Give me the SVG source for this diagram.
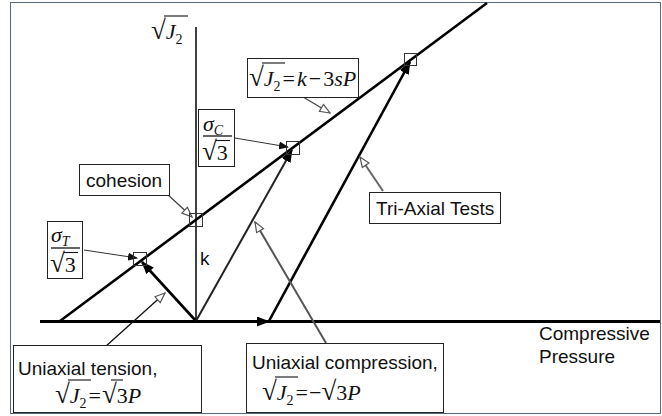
<svg xmlns="http://www.w3.org/2000/svg" width="662" height="416" viewBox="0 0 662 416">
<style>
.s{font-family:"Liberation Sans",Arial,sans-serif;font-size:19px;fill:#111}
.m{font-family:"Liberation Serif","Times New Roman",serif;font-size:22px;fill:#111}
.r{font-size:27px}
.i{font-style:italic}
.sub{font-size:14px}
.box{fill:#fff;stroke:#222;stroke-width:1}
.sq{fill:none;stroke:#333;stroke-width:1}
.vin{stroke:#111;stroke-width:1.1}
.main{stroke:#000;stroke-width:2.6;fill:none}
</style>
<defs>
<marker id="ah" markerUnits="userSpaceOnUse" markerWidth="13" markerHeight="10" refX="12" refY="5" orient="auto"><path d="M0,0 L13,5 L0,10 z" fill="#000"/></marker>
<marker id="ahs" markerUnits="userSpaceOnUse" markerWidth="10" markerHeight="8" refX="9" refY="4" orient="auto"><path d="M0,0 L10,4 L0,8 z" fill="#111"/></marker>
<marker id="ho" markerUnits="userSpaceOnUse" markerWidth="12" markerHeight="10" refX="11" refY="5" orient="auto"><path d="M1,1 L11,5 L1,9 z" fill="#fff" stroke="#555" stroke-width="1.2"/></marker>
</defs>
<rect x="10.5" y="2.5" width="650" height="411" fill="#fff" stroke="#5a6a7e" stroke-width="1"/>

<g id="connectors">
<line x1="40" y1="321.5" x2="660" y2="321.5" stroke="#000" stroke-width="3"/>
<line x1="196" y1="27" x2="196" y2="321" stroke="#000" stroke-width="1.5"/>
<line x1="60" y1="321" x2="487" y2="3" class="main"/>
<line x1="196" y1="321" x2="142" y2="262" class="main" marker-end="url(#ah)"/>
<line x1="196" y1="321" x2="292" y2="150" stroke="#222" stroke-width="2" marker-end="url(#ah)"/>
<line x1="196" y1="321.5" x2="269" y2="321.5" stroke="#000" stroke-width="3" marker-end="url(#ah)"/>
<line x1="269" y1="321" x2="410" y2="62" class="main" marker-end="url(#ah)"/>
<line x1="166" y1="193" x2="192" y2="217" stroke="#444" stroke-width="1.3" marker-end="url(#ho)"/>
<line x1="235" y1="138" x2="288" y2="147" stroke="#333" stroke-width="1" marker-end="url(#ahs)"/>
<line x1="84" y1="250" x2="137" y2="258" stroke="#333" stroke-width="1" marker-end="url(#ahs)"/>
<line x1="298" y1="94" x2="330" y2="113" stroke="#444" stroke-width="1.3" marker-end="url(#ho)"/>
<line x1="383" y1="191" x2="360" y2="157" stroke="#666" stroke-width="2" marker-end="url(#ho)"/>
<line x1="326" y1="343" x2="255" y2="222" stroke="#555" stroke-width="2" marker-end="url(#ho)"/>
<line x1="105" y1="347" x2="165" y2="293" stroke="#111" stroke-width="1.3" marker-end="url(#ho)"/>
</g>

<g id="points">
<rect x="189.5" y="213.5" width="13" height="13" class="sq"/>
<rect x="133.5" y="252.5" width="13" height="13" class="sq"/>
<rect x="286.5" y="141.5" width="13" height="13" class="sq"/>
<rect x="404.5" y="53.5" width="12" height="12" class="sq"/>
</g>

<g id="axis-label">
<text x="151" y="39" class="m"><tspan class="r">√</tspan><tspan class="i">J</tspan><tspan class="sub" dy="5">2</tspan></text>
<line x1="164" y1="16" x2="188" y2="16" class="vin"/>
</g>

<g id="k-label"><text x="200" y="265" class="s">k</text></g>

<g id="cohesion">
<rect x="79.5" y="164.5" width="90" height="31" class="box"/>
<text x="86" y="187" class="s">cohesion</text>
</g>

<g id="sigmaC">
<rect x="198.5" y="109.5" width="36" height="57" class="box"/>
<text x="203" y="131" class="m i" font-size="24">σ<tspan class="sub" dy="4">C</tspan></text>
<line x1="203" y1="136" x2="232" y2="136" stroke="#111" stroke-width="1.3"/>
<text x="202" y="160" class="m"><tspan class="r">√</tspan>3</text>
<line x1="216" y1="140.5" x2="230" y2="140.5" class="vin"/>
</g>

<g id="sigmaT">
<rect x="47.5" y="221.5" width="35" height="57" class="box"/>
<text x="51" y="242" class="m i" font-size="24">σ<tspan class="sub" dy="4">T</tspan></text>
<line x1="51" y1="248" x2="80" y2="248" stroke="#111" stroke-width="1.3"/>
<text x="50" y="272" class="m"><tspan class="r">√</tspan>3</text>
<line x1="64" y1="252.5" x2="78" y2="252.5" class="vin"/>
</g>

<g id="criterion">
<rect x="247.5" y="58.5" width="111" height="39" class="box"/>
<text x="249" y="86" class="m"><tspan class="r">√</tspan><tspan class="i">J</tspan><tspan class="sub" dy="5">2</tspan><tspan dy="-5" dx="2">=</tspan><tspan class="i" dx="2">k</tspan><tspan dx="2">−</tspan><tspan dx="2">3</tspan><tspan class="i">sP</tspan></text>
<line x1="262" y1="63" x2="285" y2="63" class="vin"/>
</g>

<g id="triaxial">
<rect x="369.5" y="192.5" width="131" height="31" class="box"/>
<text x="376" y="215" class="s">Tri-Axial Tests</text>
</g>

<g id="tension">
<rect x="13.5" y="345.5" width="188" height="67" class="box"/>
<text x="18" y="375" class="s">Uniaxial tension,</text>
<text x="55" y="403" class="m"><tspan class="r">√</tspan><tspan class="i">J</tspan><tspan class="sub" dy="5">2</tspan><tspan dy="-5" dx="2">=</tspan><tspan class="r" dx="1">√</tspan>3<tspan class="i">P</tspan></text>
<line x1="68" y1="380" x2="91" y2="380" class="vin"/>
<line x1="111" y1="380" x2="123" y2="380" class="vin"/>
</g>

<g id="compression">
<rect x="246.5" y="343.5" width="197" height="69" class="box"/>
<text x="252" y="369" class="s">Uniaxial compression,</text>
<text x="262" y="400" class="m"><tspan class="r">√</tspan><tspan class="i">J</tspan><tspan class="sub" dy="5">2</tspan><tspan dy="-5" dx="2">=</tspan><tspan dx="1">−</tspan><tspan class="r">√</tspan>3<tspan class="i">P</tspan></text>
<line x1="275" y1="377" x2="298" y2="377" class="vin"/>
</g>

<g id="pressure-label">
<text x="539" y="340" class="s" font-size="21">Compressive</text>
<text x="539" y="363" class="s" font-size="21">Pressure</text>
</g>
</svg>
